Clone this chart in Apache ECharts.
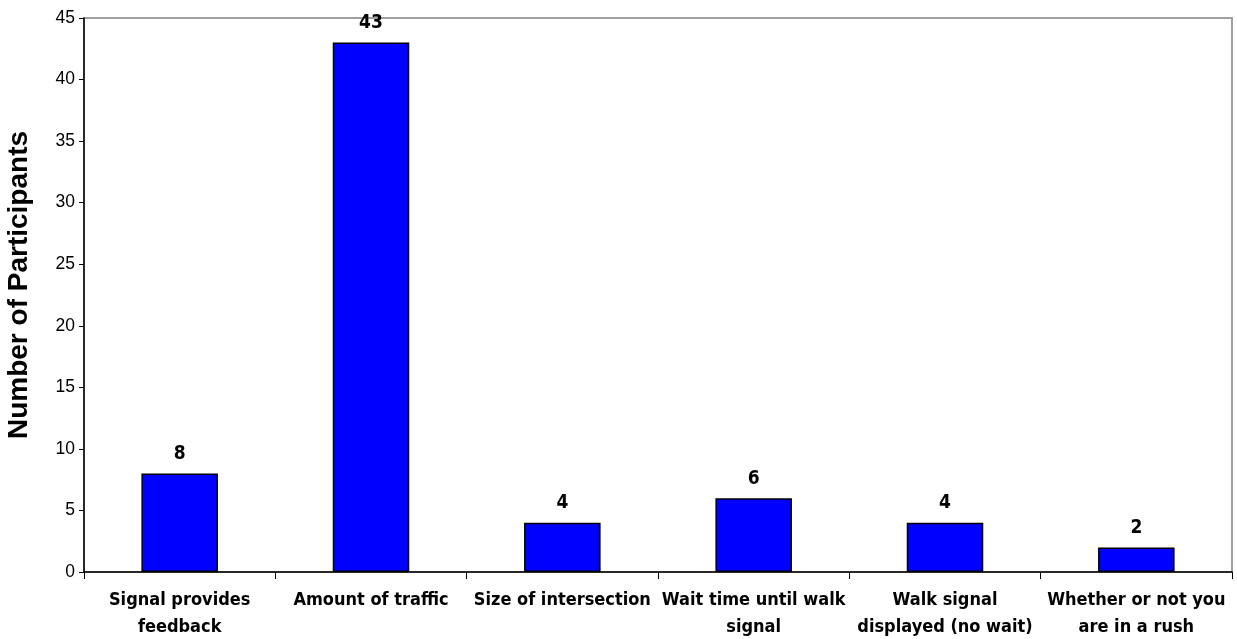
<!DOCTYPE html>
<html>
<head>
<meta charset="utf-8">
<script src="https://cdn.jsdelivr.net/npm/echarts@6/dist/echarts.min.js"></script>
<style>
  html, body { margin: 0; padding: 0; background: #fff; }
  #chart { width: 1237px; height: 639px; }
</style>
</head>
<body>
<div id="chart"></div>
<script>
// Reasons participants gave for pushing the pedestrian button
const categories = [
  'Signal provides\nfeedback',
  'Amount of traffic',
  'Size of intersection',
  'Wait time until walk\nsignal',
  'Walk signal\ndisplayed (no wait)',
  'Whether or not you\nare in a rush'
];
const participants = [8, 43, 4, 6, 4, 2];
const yTicks = { min: 0, max: 45, interval: 5 };

const narrowBold = '"Liberation Sans Narrow", "DejaVu Sans Condensed", "Liberation Sans", sans-serif';
const plainSans = '"Liberation Sans", Arial, sans-serif';

const chart = echarts.init(document.getElementById('chart'));
chart.setOption({
  animation: false,
  backgroundColor: '#ffffff',
  grid: {
    left: 84, right: 5, top: 18, bottom: 67,
    outerBoundsMode: 'none', containLabel: false,
    show: true, borderColor: '#a0a0a0', borderWidth: 2
  },
  xAxis: {
    type: 'category',
    data: categories,
    axisLine: { lineStyle: { color: '#000', width: 1.5 } },
    axisTick: { show: true, alignWithLabel: false, length: 7, lineStyle: { color: '#000' } },
    axisLabel: {
      color: '#000', fontFamily: narrowBold, fontWeight: 'bold', fontSize: 18,
      lineHeight: 27, margin: 15, interval: 0
    }
  },
  yAxis: {
    type: 'value',
    min: yTicks.min, max: yTicks.max, interval: yTicks.interval,
    name: 'Number of Participants',
    nameLocation: 'middle',
    nameGap: 51,
    nameTextStyle: {
      color: '#000', fontFamily: plainSans, fontWeight: 'bold', fontSize: 28,
      padding: [0, 0, 0, 20]
    },
    splitLine: { show: false },
    axisLine: { show: true, lineStyle: { color: '#000', width: 1.5 } },
    axisTick: { show: true, length: 5, lineStyle: { color: '#000' } },
    axisLabel: { color: '#000', fontFamily: plainSans, fontSize: 17.5, margin: 9 }
  },
  series: [{
    type: 'bar',
    data: participants,
    barWidth: '40%',
    itemStyle: { color: '#0000ff', borderColor: '#000', borderWidth: 1.5 },
    label: {
      show: true, position: 'top', distance: 10,
      color: '#000', fontFamily: narrowBold, fontWeight: 'bold', fontSize: 19
    }
  }]
});
</script>
</body>
</html>
